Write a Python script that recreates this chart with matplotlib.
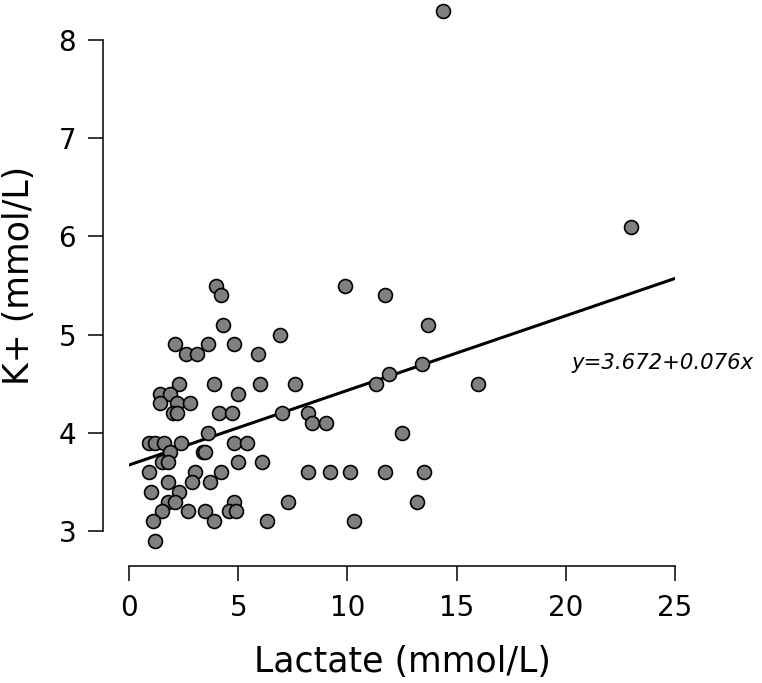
import matplotlib
matplotlib.use("Agg")
import matplotlib.pyplot as plt
import numpy as np

# Lactate (mmol/L) vs K+ (mmol/L)
lactate = [
    14.4, 23.0, 4.0, 4.2, 9.9, 11.7, 4.3, 13.7, 6.9,
    2.1, 3.6, 4.8, 2.6, 3.1, 5.9, 13.4, 11.9, 11.3, 16.0,
    2.3, 3.9, 6.0, 7.6, 5.0, 1.4, 1.9, 1.4, 2.2, 2.8,
    2.0, 2.2, 4.1, 4.7, 7.0, 8.2, 8.4, 9.0, 12.5, 3.6,
    0.9, 1.2, 1.6, 2.4, 4.8, 5.4, 1.9, 3.4, 3.5,
    1.5, 1.8, 5.0, 6.1, 0.9, 3.0, 4.2, 8.2, 9.2, 10.1, 11.7, 13.5,
    1.8, 2.9, 3.7, 1.0, 2.3, 1.8, 2.1, 4.8, 7.3, 13.2,
    1.5, 2.7, 3.5, 4.6, 4.9, 1.1, 3.9, 6.3, 10.3, 1.2,
]
potassium = [
    8.3, 6.1, 5.5, 5.4, 5.5, 5.4, 5.1, 5.1, 5.0,
    4.9, 4.9, 4.9, 4.8, 4.8, 4.8, 4.7, 4.6, 4.5, 4.5,
    4.5, 4.5, 4.5, 4.5, 4.4, 4.4, 4.4, 4.3, 4.3, 4.3,
    4.2, 4.2, 4.2, 4.2, 4.2, 4.2, 4.1, 4.1, 4.0, 4.0,
    3.9, 3.9, 3.9, 3.9, 3.9, 3.9, 3.8, 3.8, 3.8,
    3.7, 3.7, 3.7, 3.7, 3.6, 3.6, 3.6, 3.6, 3.6, 3.6, 3.6, 3.6,
    3.5, 3.5, 3.5, 3.4, 3.4, 3.3, 3.3, 3.3, 3.3, 3.3,
    3.2, 3.2, 3.2, 3.2, 3.2, 3.1, 3.1, 3.1, 3.1, 2.9,
]

intercept = 3.672
slope = 0.076
fit_x = np.array([0, 25])

x_ticks = [0, 5, 10, 15, 20, 25]
y_ticks = [3, 4, 5, 6, 7, 8]

plt.rcParams['font.family'] = ['DejaVu Sans']

fig = plt.figure(figsize=(7.62, 6.83), dpi=100)
W, H = 762, 683
ax = fig.add_axes([129 / W, (H - 531) / H, (675 - 129) / W, (531 - 40) / H])

ax.scatter(lactate, potassium, s=100, facecolor='#808080',
           edgecolor='black', linewidth=1.2, zorder=3, clip_on=False)
ax.plot(fit_x, intercept + slope * fit_x, color='black', linewidth=2.2,
        zorder=2)

ax.text(20.25, 4.71, 'y=3.672+0.076x', style='italic', fontsize=15.3,
        va='center', ha='left')

ax.set_xlim(0, 25)
ax.set_ylim(3, 8)
ax.set_xticks(x_ticks)
ax.set_yticks(y_ticks)

for side in ('top', 'right'):
    ax.spines[side].set_visible(False)
ax.spines['left'].set_position(('outward', 19))
ax.spines['bottom'].set_position(('outward', 25))
ax.spines['left'].set_bounds(3, 8)
ax.spines['bottom'].set_bounds(0, 25)
for side in ('left', 'bottom'):
    ax.spines[side].set_linewidth(1.1)

ax.tick_params(axis='both', length=11, width=1.1, labelsize=20)
ax.tick_params(axis='y', pad=8)
ax.tick_params(axis='x', pad=9)

ax.set_xlabel('Lactate (mmol/L)', fontsize=25, labelpad=17)
ax.set_ylabel('K+ (mmol/L)', fontsize=25)
ax.yaxis.set_label_coords(-0.17, 0.521)

plt.savefig('out.png', dpi=100)
plt.close()
